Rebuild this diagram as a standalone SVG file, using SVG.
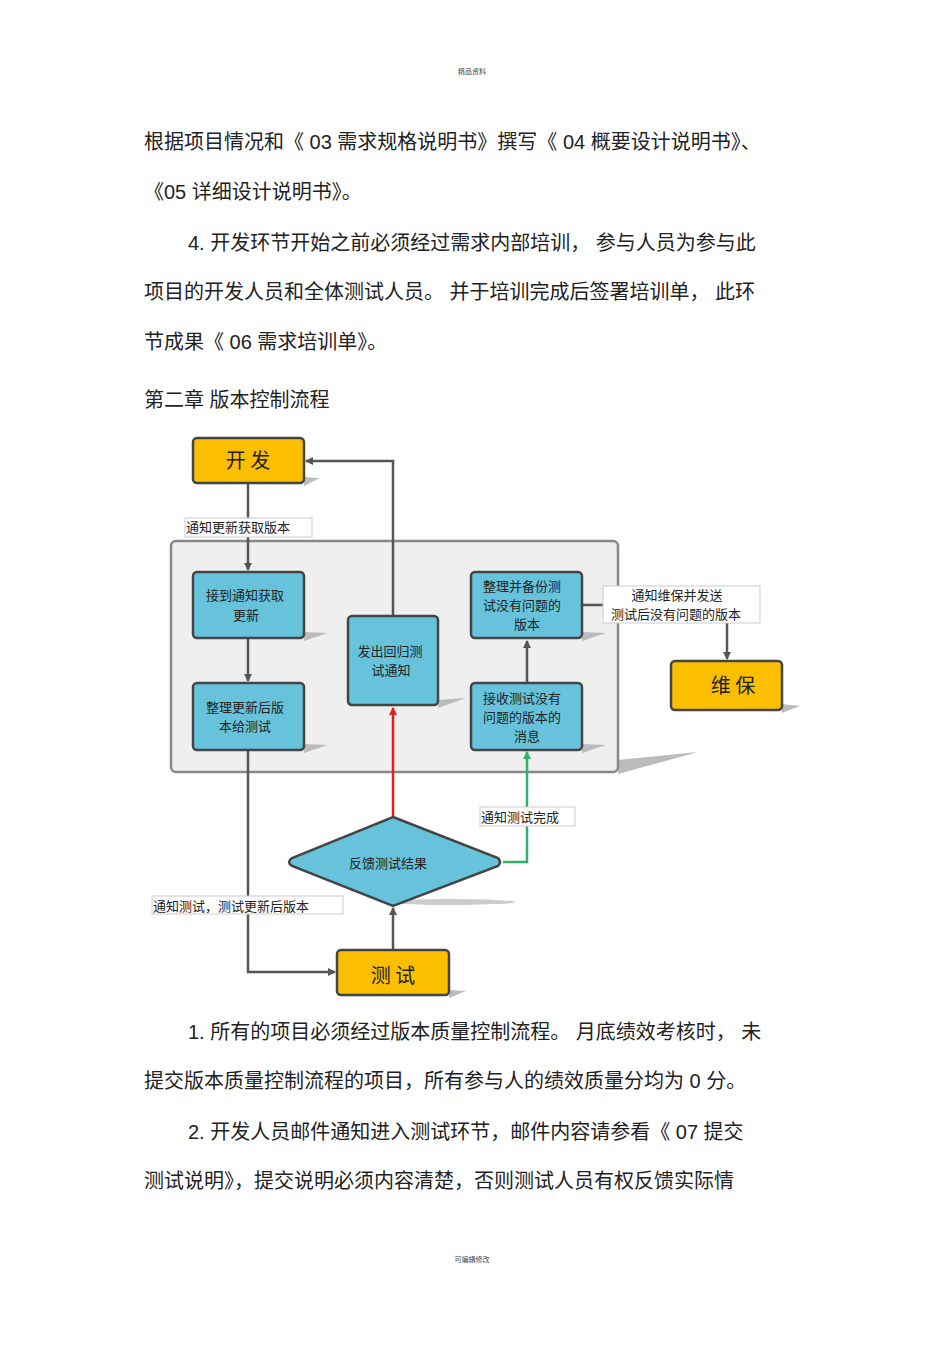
<svg xmlns="http://www.w3.org/2000/svg" width="950" height="1345" viewBox="0 0 950 1345">
<style>
.b{font-family:"Liberation Sans","Noto Sans CJK SC",sans-serif;font-size:20px;fill:#222}
.s{font-family:"Liberation Serif","Noto Sans CJK SC",serif;font-size:13px;fill:#222}
.n{fill:#66c3db;stroke:#444;stroke-width:2.5}
.y{fill:#fbbf00;stroke:#444;stroke-width:2.5}
.t{font-family:"Noto Sans CJK SC",sans-serif;font-size:13px;fill:#222;text-anchor:middle}
.big{font-family:"Noto Sans CJK SC",sans-serif;font-size:20px;fill:#222;text-anchor:middle}
.sh{fill:#bbb}
.l{fill:#fff;stroke:#ccc;stroke-width:1}
.c{fill:none;stroke:#555;stroke-width:2.5}
</style>
<defs>
<marker id="a" markerWidth="8" markerHeight="8" refX="7" refY="4" orient="auto" markerUnits="userSpaceOnUse"><path d="M0,0L8,4L0,8z" fill="#555"/></marker>
<marker id="ar" markerWidth="8" markerHeight="8" refX="7" refY="4" orient="auto" markerUnits="userSpaceOnUse"><path d="M0,0L8,4L0,8z" fill="#e02020"/></marker>
<marker id="ag" markerWidth="8" markerHeight="8" refX="7" refY="4" orient="auto" markerUnits="userSpaceOnUse"><path d="M0,0L8,4L0,8z" fill="#2db36a"/></marker>
</defs>
<text x="472" y="74" font-family="Liberation Sans,Noto Sans CJK SC,sans-serif" font-size="7" text-anchor="middle" fill="#444">精品资料</text>
<g class="b">
<text x="144" y="149">根据项目情况和《 03  需求规格说明书》撰写《 04  概要设计说明书》、</text>
<text x="144" y="199">《05 详细设计说明书》。</text>
<text x="188" y="250">4. 开发环节开始之前必须经过需求内部培训，    参与人员为参与此</text>
<text x="144" y="299">项目的开发人员和全体测试人员。   并于培训完成后签署培训单，    此环</text>
<text x="144" y="349">节成果《 06  需求培训单》。</text>
<text x="144" y="407">第二章   版本控制流程</text>
<text x="188" y="1039">1. 所有的项目必须经过版本质量控制流程。    月底绩效考核时，   未</text>
<text x="144" y="1088">提交版本质量控制流程的项目，所有参与人的绩效质量分均为      0  分。</text>
<text x="188" y="1139">2. 开发人员邮件通知进入测试环节，邮件内容请参看《      07   提交</text>
<text x="144" y="1188">测试说明》，提交说明必须内容清楚，否则测试人员有权反馈实际情</text>
</g>
<text x="472" y="1262" font-family="Liberation Sans,Noto Sans CJK SC,sans-serif" font-size="7" text-anchor="middle" fill="#444">可编辑修改</text>

<g id="container"><polygon class="sh" points="618,760 698,752 618,774"/><rect x="171" y="541" width="447" height="231" rx="5" fill="#efefef" stroke="#888" stroke-width="2.5"/></g>

<g id="connectors">
<path class="c" d="M393,616V461H306" marker-end="url(#a)"/>
<path class="c" d="M248,483V570" marker-end="url(#a)"/>
<path class="c" d="M248,638V681" marker-end="url(#a)"/>
<path class="c" d="M527,683V641" marker-end="url(#a)"/>
<path class="c" d="M582,605H727V659" marker-end="url(#a)"/>
<path d="M393,817V708" fill="none" stroke="#e02020" stroke-width="2.5" marker-end="url(#ar)"/>
<path d="M503,862H527V752" fill="none" stroke="#2db36a" stroke-width="2.5" marker-end="url(#ag)"/>
<path class="c" d="M248,750V972H335" marker-end="url(#a)"/>
<path class="c" d="M393,950V908" marker-end="url(#a)"/>
</g>

<g id="lbl1"><rect class="l" x="185" y="518" width="127" height="19"/><text class="s" x="186" y="532">通知更新获取版本</text></g>
<g id="lbl2"><rect class="l" x="603" y="586" width="157" height="37"/><text class="s" x="677" y="600" text-anchor="middle">通知维保并发送</text><text class="s" x="676" y="619" text-anchor="middle">测试后没有问题的版本</text></g>
<g id="lbl3"><rect class="l" x="480" y="807" width="95" height="19"/><text class="s" x="481" y="822">通知测试完成</text></g>
<g id="lbl4"><rect class="l" x="152" y="896" width="191" height="18"/><text class="s" x="153" y="911">通知测试，测试更新后版本</text></g>

<g id="kaifa"><polygon class="sh" points="304,477 320,478 304,486"/><rect class="y" x="193" y="438" width="111" height="45" rx="4"/><text class="big" x="248" y="468">开  发</text></g>
<g id="n1"><polygon class="sh" points="304,632 328,633 304,641"/><rect class="n" x="193" y="572" width="111" height="66" rx="4"/><text class="t" x="245" y="600">接到通知获取</text><text class="t" x="246" y="620">更新</text></g>
<g id="n2"><polygon class="sh" points="304,744 328,745 304,753"/><rect class="n" x="193" y="683" width="111" height="67" rx="4"/><text class="t" x="245" y="712">整理更新后版</text><text class="t" x="245" y="731">本给测试</text></g>
<g id="n3"><polygon class="sh" points="438,700 466,698 438,708"/><rect class="n" x="348" y="616" width="90" height="89" rx="4"/><text class="t" x="390" y="656">发出回归测</text><text class="t" x="391" y="675">试通知</text></g>
<g id="n4"><polygon class="sh" points="582,632 606,633 582,641"/><rect class="n" x="471" y="572" width="111" height="66" rx="4"/><text class="t" x="522" y="591">整理并备份测</text><text class="t" x="522" y="610">试没有问题的</text><text class="t" x="527" y="629">版本</text></g>
<g id="n5"><polygon class="sh" points="582,744 606,745 582,753"/><rect class="n" x="471" y="683" width="111" height="67" rx="4"/><text class="t" x="522" y="703">接收测试没有</text><text class="t" x="522" y="722">问题的版本的</text><text class="t" x="527" y="741">消息</text></g>
<g id="weibao"><polygon class="sh" points="782,704 800,706 782,713"/><rect class="y" x="671" y="661" width="111" height="49" rx="4"/><text class="big" x="733" y="693">维  保</text></g>
<g id="diamond"><ellipse cx="450" cy="902" rx="65" ry="3" fill="#ccc"/><path class="n" d="M393,817L498,858Q502,862 498,866L393,906L292,866Q286,862 292,858Z"/><text class="t" x="388" y="868">反馈测试结果</text></g>
<g id="ceshi"><polygon class="sh" points="449,990 466,991 449,998"/><rect class="y" x="337" y="950" width="112" height="45" rx="4"/><text class="big" x="393" y="983">测 试</text></g>
</svg>
